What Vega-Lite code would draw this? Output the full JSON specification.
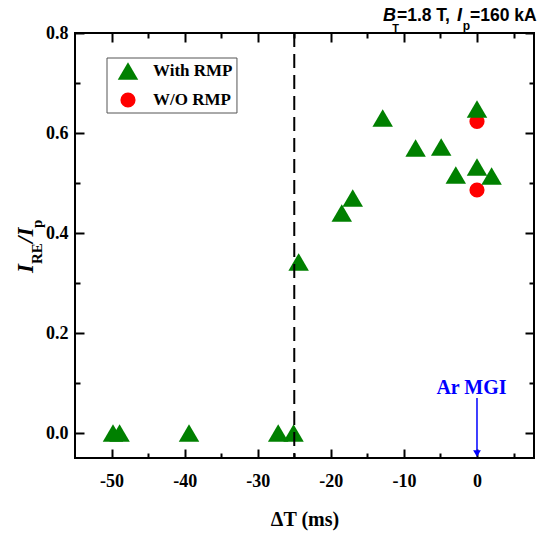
{
  "$schema": "https://vega.github.io/schema/vega-lite/v6.json",
  "width": 459,
  "height": 425,
  "autosize": {"type": "none"},
  "padding": {"left": 75, "top": 33, "right": 17, "bottom": 82},
  "background": "white",
  "datasets": {
    "points": [
      {"dt": 0, "ratio": 0.623, "series": "W/O RMP"},
      {"dt": 0, "ratio": 0.486, "series": "W/O RMP"},
      {"dt": -49.8, "ratio": 0.0, "series": "With RMP"},
      {"dt": -48.9, "ratio": 0.0, "series": "With RMP"},
      {"dt": -39.4, "ratio": 0.0, "series": "With RMP"},
      {"dt": -27.2, "ratio": 0.0, "series": "With RMP"},
      {"dt": -25.1, "ratio": 0.0, "series": "With RMP"},
      {"dt": -24.4, "ratio": 0.342, "series": "With RMP"},
      {"dt": -18.5, "ratio": 0.44, "series": "With RMP"},
      {"dt": -17.0, "ratio": 0.47, "series": "With RMP"},
      {"dt": -12.9, "ratio": 0.63, "series": "With RMP"},
      {"dt": -8.4, "ratio": 0.57, "series": "With RMP"},
      {"dt": -4.9, "ratio": 0.572, "series": "With RMP"},
      {"dt": -2.9, "ratio": 0.516, "series": "With RMP"},
      {"dt": 0, "ratio": 0.648, "series": "With RMP"},
      {"dt": 0, "ratio": 0.532, "series": "With RMP"},
      {"dt": 2.0, "ratio": 0.514, "series": "With RMP"}
    ],
    "legend": [
      {"series": "With RMP", "row": 0.724},
      {"series": "W/O RMP", "row": 0.666}
    ]
  },
  "layer": [
    {
      "data": {"name": "points"},
      "mark": {"type": "point", "filled": true, "opacity": 1, "strokeWidth": 0},
      "encoding": {
        "x": {"field": "dt", "type": "quantitative", "scale": {"domain": [-55, 7.8], "nice": false, "zero": false},
          "axis": {"orient": "bottom", "values": [-50, -40, -30, -20, -10, 0], "ticks": true, "tickSize": -9, "tickWidth": 2, "tickColor": "#000", "labelPadding": 23, "labelExpr": "'' + datum.value", "labelFont": "Liberation Serif", "labelFontWeight": "bold", "labelFontSize": 18, "labelColor": "#000", "title": "ΔT (ms)", "titleFont": "Liberation Serif", "titleFontWeight": "bold", "titleFontSize": 20, "titleColor": "#000", "titlePadding": 19}},
        "y": {"field": "ratio", "type": "quantitative", "scale": {"domain": [-0.05, 0.8], "nice": false, "zero": false},
          "axis": {"orient": "left", "values": [0, 0.2, 0.4, 0.6, 0.8], "format": ".1f", "ticks": true, "tickSize": -9, "tickWidth": 2, "tickColor": "#000", "labelPadding": 16, "labelFont": "Liberation Serif", "labelFontWeight": "bold", "labelFontSize": 18, "labelColor": "#000", "title": null}},
        "shape": {"field": "series", "type": "nominal", "scale": {"domain": ["With RMP", "W/O RMP"], "range": ["triangle-up", "circle"]}, "legend": null},
        "color": {"field": "series", "type": "nominal", "scale": {"domain": ["With RMP", "W/O RMP"], "range": ["#008000", "#ff0000"]}, "legend": null},
        "size": {"field": "series", "type": "nominal", "scale": {"domain": ["With RMP", "W/O RMP"], "range": [420, 230]}, "legend": null}
      }
    },
    {
      "data": {"values": [{}]},
      "mark": {"type": "rect", "fill": "white", "stroke": "#555", "strokeWidth": 1},
      "encoding": {
        "x": {"datum": -50.62, "type": "quantitative", "scale": {"domain": [-55, 7.8], "nice": false, "zero": false}, "axis": null},
        "x2": {"datum": -32.84},
        "y": {"datum": 0.75, "type": "quantitative", "scale": {"domain": [-0.05, 0.8], "nice": false, "zero": false}, "axis": null},
        "y2": {"datum": 0.64}
      }
    },
    {
      "data": {"name": "legend"},
      "mark": {"type": "point", "filled": true, "opacity": 1, "strokeWidth": 0},
      "encoding": {
        "x": {"datum": -47.75, "type": "quantitative", "scale": {"domain": [-55, 7.8], "nice": false, "zero": false}, "axis": null},
        "y": {"field": "row", "type": "quantitative", "scale": {"domain": [-0.05, 0.8], "nice": false, "zero": false}, "axis": null},
        "shape": {"field": "series", "type": "nominal", "scale": {"domain": ["With RMP", "W/O RMP"], "range": ["triangle-up", "circle"]}, "legend": null},
        "color": {"field": "series", "type": "nominal", "scale": {"domain": ["With RMP", "W/O RMP"], "range": ["#008000", "#ff0000"]}, "legend": null},
        "size": {"field": "series", "type": "nominal", "scale": {"domain": ["With RMP", "W/O RMP"], "range": [420, 230]}, "legend": null}
      }
    },
    {
      "data": {"name": "legend"},
      "mark": {"type": "text", "font": "Liberation Serif", "fontWeight": "bold", "fontSize": 17, "color": "#000", "align": "left", "baseline": "middle"},
      "encoding": {
        "x": {"datum": -44.33, "type": "quantitative", "scale": {"domain": [-55, 7.8], "nice": false, "zero": false}, "axis": null},
        "y": {"field": "row", "type": "quantitative", "scale": {"domain": [-0.05, 0.8], "nice": false, "zero": false}, "axis": null},
        "text": {"field": "series", "type": "nominal"}
      }
    },
    {
      "data": {"values": [{}]},
      "mark": {"type": "rule", "strokeDash": [14, 7], "strokeWidth": 2, "color": "#000"},
      "encoding": {
        "x": {"datum": -25, "type": "quantitative", "scale": {"domain": [-55, 7.8], "nice": false, "zero": false}, "axis": null},
        "y": {"datum": 0.8, "type": "quantitative", "scale": {"domain": [-0.05, 0.8], "nice": false, "zero": false}, "axis": null},
        "y2": {"datum": -0.05}
      }
    },
    {
      "data": {"values": [{}]},
      "mark": {"type": "rule", "strokeWidth": 1.5, "color": "#0000ff"},
      "encoding": {
        "x": {"datum": 0, "type": "quantitative", "scale": {"domain": [-55, 7.8], "nice": false, "zero": false},
          "axis": {"orient": "bottom", "values": [-45, -35, -25, -15, -5, 5], "tickSize": -5, "tickWidth": 2, "tickColor": "#000", "labels": false, "title": null}},
        "y": {"datum": 0.07, "type": "quantitative", "scale": {"domain": [-0.05, 0.8], "nice": false, "zero": false},
          "axis": {"orient": "left", "values": [0.1, 0.3, 0.5, 0.7], "tickSize": -5, "tickWidth": 2, "tickColor": "#000", "labels": false, "title": null}},
        "y2": {"datum": -0.035}
      }
    },
    {
      "data": {"values": [{}]},
      "mark": {"type": "point", "filled": true, "opacity": 1, "size": 60, "strokeWidth": 0, "color": "#0000ff", "shape": "triangle-down"},
      "encoding": {
        "x": {"datum": 0, "type": "quantitative", "scale": {"domain": [-55, 7.8], "nice": false, "zero": false},
          "axis": {"orient": "top", "values": [-50, -40, -30, -20, -10, 0], "tickSize": -9, "tickWidth": 2, "tickColor": "#000", "labels": false, "title": null}},
        "y": {"datum": -0.041, "type": "quantitative", "scale": {"domain": [-0.05, 0.8], "nice": false, "zero": false},
          "axis": {"orient": "right", "values": [0, 0.2, 0.4, 0.6, 0.8], "tickSize": -9, "tickWidth": 2, "tickColor": "#000", "labels": false, "title": null}}
      }
    },
    {
      "data": {"values": [{}]},
      "mark": {"type": "text", "text": "Ar MGI", "font": "Liberation Serif", "fontWeight": "bold", "fontSize": 20, "color": "#0000ff", "align": "center", "baseline": "alphabetic"},
      "encoding": {
        "x": {"datum": -0.75, "type": "quantitative", "scale": {"domain": [-55, 7.8], "nice": false, "zero": false},
          "axis": {"orient": "top", "values": [-45, -35, -25, -15, -5, 5], "tickSize": -5, "tickWidth": 2, "tickColor": "#000", "labels": false, "title": null}},
        "y": {"datum": 0.078, "type": "quantitative", "scale": {"domain": [-0.05, 0.8], "nice": false, "zero": false},
          "axis": {"orient": "right", "values": [0.1, 0.3, 0.5, 0.7], "tickSize": -5, "tickWidth": 2, "tickColor": "#000", "labels": false, "title": null}}
      }
    },
    {
      "data": {"values": [{}]},
      "mark": {"type": "text", "text": "I", "font": "Liberation Serif", "fontWeight": "bold", "fontStyle": "italic", "fontSize": 23, "angle": 270, "align": "left", "baseline": "alphabetic", "color": "#000"},
      "encoding": {
        "x": {"datum": -60.75, "type": "quantitative", "scale": {"domain": [-55, 7.8], "nice": false, "zero": false}, "axis": null},
        "y": {"datum": 0.32, "type": "quantitative", "scale": {"domain": [-0.05, 0.8], "nice": false, "zero": false}, "axis": null}
      }
    },
    {
      "data": {"values": [{}]},
      "mark": {"type": "text", "text": "RE", "font": "Liberation Serif", "fontWeight": "bold", "fontSize": 15, "angle": 270, "align": "left", "baseline": "alphabetic", "color": "#000"},
      "encoding": {
        "x": {"datum": -59.51, "type": "quantitative", "scale": {"domain": [-55, 7.8], "nice": false, "zero": false}, "axis": null},
        "y": {"datum": 0.338, "type": "quantitative", "scale": {"domain": [-0.05, 0.8], "nice": false, "zero": false}, "axis": null}
      }
    },
    {
      "data": {"values": [{}]},
      "mark": {"type": "text", "text": "/I", "font": "Liberation Serif", "fontWeight": "bold", "fontStyle": "italic", "fontSize": 23, "angle": 270, "align": "left", "baseline": "alphabetic", "color": "#000"},
      "encoding": {
        "x": {"datum": -60.75, "type": "quantitative", "scale": {"domain": [-55, 7.8], "nice": false, "zero": false}, "axis": null},
        "y": {"datum": 0.38, "type": "quantitative", "scale": {"domain": [-0.05, 0.8], "nice": false, "zero": false}, "axis": null}
      }
    },
    {
      "data": {"values": [{}]},
      "mark": {"type": "text", "text": "p", "font": "Liberation Serif", "fontWeight": "bold", "fontSize": 15, "angle": 270, "align": "left", "baseline": "alphabetic", "color": "#000"},
      "encoding": {
        "x": {"datum": -59.51, "type": "quantitative", "scale": {"domain": [-55, 7.8], "nice": false, "zero": false}, "axis": null},
        "y": {"datum": 0.41, "type": "quantitative", "scale": {"domain": [-0.05, 0.8], "nice": false, "zero": false}, "axis": null}
      }
    },
    {
      "data": {"values": [{}]},
      "mark": {"type": "text", "text": "B", "font": "Liberation Sans", "fontWeight": "bold", "fontStyle": "italic", "fontSize": 18, "align": "left", "baseline": "alphabetic", "color": "#000"},
      "encoding": {
        "x": {"datum": -12.86, "type": "quantitative", "scale": {"domain": [-55, 7.8], "nice": false, "zero": false}, "axis": null},
        "y": {"datum": 0.824, "type": "quantitative", "scale": {"domain": [-0.05, 0.8], "nice": false, "zero": false}, "axis": null}
      }
    },
    {
      "data": {"values": [{}]},
      "mark": {"type": "text", "text": "T", "font": "Liberation Sans", "fontWeight": "bold", "fontSize": 11, "align": "left", "baseline": "alphabetic", "color": "#000"},
      "encoding": {
        "x": {"datum": -11.6, "type": "quantitative", "scale": {"domain": [-55, 7.8], "nice": false, "zero": false}, "axis": null},
        "y": {"datum": 0.802, "type": "quantitative", "scale": {"domain": [-0.05, 0.8], "nice": false, "zero": false}, "axis": null}
      }
    },
    {
      "data": {"values": [{}]},
      "mark": {"type": "text", "text": "=1.8 T,", "font": "Liberation Sans", "fontWeight": "bold", "fontSize": 17.5, "align": "left", "baseline": "alphabetic", "color": "#000"},
      "encoding": {
        "x": {"datum": -10.95, "type": "quantitative", "scale": {"domain": [-55, 7.8], "nice": false, "zero": false}, "axis": null},
        "y": {"datum": 0.824, "type": "quantitative", "scale": {"domain": [-0.05, 0.8], "nice": false, "zero": false}, "axis": null}
      }
    },
    {
      "data": {"values": [{}]},
      "mark": {"type": "text", "text": "I", "font": "Liberation Sans", "fontWeight": "bold", "fontStyle": "italic", "fontSize": 18, "align": "left", "baseline": "alphabetic", "color": "#000"},
      "encoding": {
        "x": {"datum": -2.75, "type": "quantitative", "scale": {"domain": [-55, 7.8], "nice": false, "zero": false}, "axis": null},
        "y": {"datum": 0.824, "type": "quantitative", "scale": {"domain": [-0.05, 0.8], "nice": false, "zero": false}, "axis": null}
      }
    },
    {
      "data": {"values": [{}]},
      "mark": {"type": "text", "text": "p", "font": "Liberation Sans", "fontWeight": "bold", "fontSize": 12, "align": "left", "baseline": "alphabetic", "color": "#000"},
      "encoding": {
        "x": {"datum": -1.95, "type": "quantitative", "scale": {"domain": [-55, 7.8], "nice": false, "zero": false}, "axis": null},
        "y": {"datum": 0.806, "type": "quantitative", "scale": {"domain": [-0.05, 0.8], "nice": false, "zero": false}, "axis": null}
      }
    },
    {
      "data": {"values": [{}]},
      "mark": {"type": "text", "text": "=160 kA", "font": "Liberation Sans", "fontWeight": "bold", "fontSize": 17.5, "align": "left", "baseline": "alphabetic", "color": "#000"},
      "encoding": {
        "x": {"datum": -0.95, "type": "quantitative", "scale": {"domain": [-55, 7.8], "nice": false, "zero": false}, "axis": null},
        "y": {"datum": 0.824, "type": "quantitative", "scale": {"domain": [-0.05, 0.8], "nice": false, "zero": false}, "axis": null}
      }
    }
  ],
  "resolve": {"axis": {"x": "independent", "y": "independent"}},
  "config": {
    "view": {"stroke": "#000", "strokeWidth": 2},
    "axis": {"grid": false, "domain": false}
  }
}
